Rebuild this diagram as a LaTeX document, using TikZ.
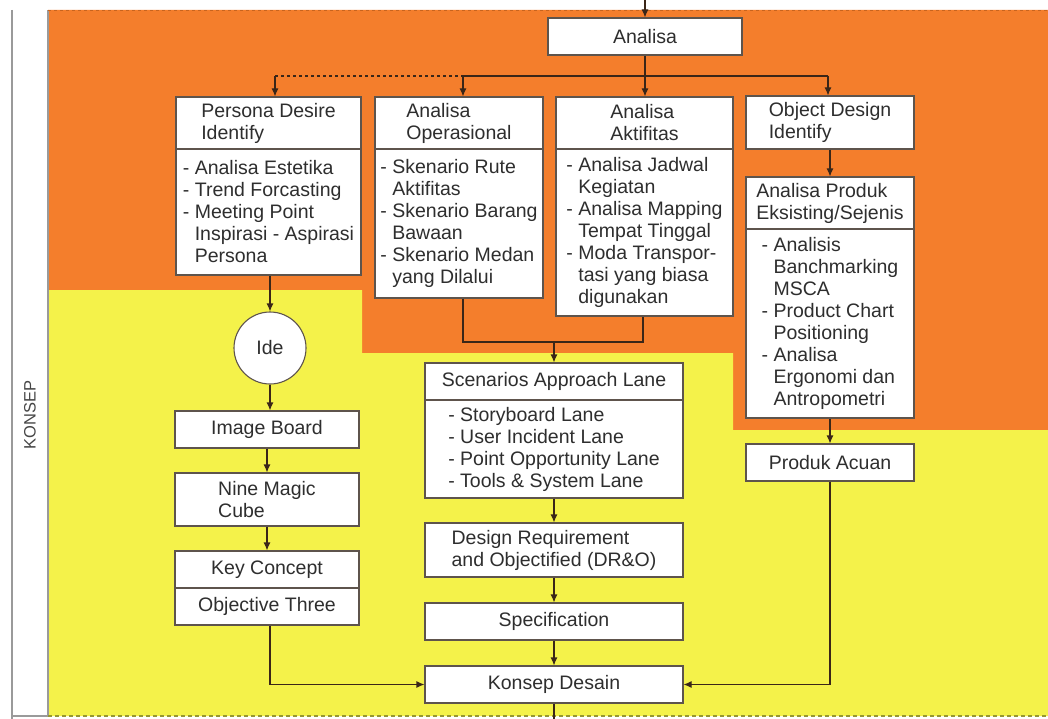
\documentclass[tikz,border=0pt]{standalone}
\usepackage{fontspec}
\setmainfont{Liberation Sans}
\usetikzlibrary{arrows.meta}
\definecolor{org}{HTML}{F47E2C}
\definecolor{yel}{HTML}{F4F24A}
\definecolor{txt}{HTML}{2E2E2E}
\definecolor{ln}{HTML}{3A2618}
\definecolor{bd}{HTML}{5E544C}
\definecolor{frame}{HTML}{9A9A9A}
\newcommand{\hg}{\hphantom{- }}
\begin{document}
\begin{tikzpicture}[x=1pt,y=-1pt,
 box/.style={draw=bd, line width=1.1pt, fill=white, inner sep=0pt, align=left, text=txt, font=\fontsize{19.5}{22}\selectfont},
 conn/.style={draw=ln, line width=1.1pt},
 arr/.style={conn, -{Latex[length=8pt,width=7pt]}}]
\useasboundingbox (0,0) rectangle (1048,719);
\fill[white] (0,0) rectangle (1048,719);
% backgrounds
\fill[org] (48,10) -- (1048,10) -- (1048,430) -- (733,430) -- (733,353) -- (362,353) -- (362,290) -- (48,290) -- cycle;
\fill[yel] (48,290) -- (362,290) -- (362,353) -- (733,353) -- (733,430) -- (1048,430) -- (1048,716) -- (48,716) -- cycle;
\draw[frame, line width=1.2pt] (12,10) -- (12,719);
\draw[frame, line width=1.2pt] (48,10) -- (48,716);
\draw[frame, line width=1.2pt] (12,716) -- (48,716);
\draw[draw={rgb,255:red,200;green,100;blue,30}, line width=1pt, dash pattern=on 3pt off 3pt] (48,10.5) -- (1048,10.5);
\draw[draw={rgb,255:red,150;green,150;blue,50}, line width=1.4pt, dash pattern=on 4pt off 3pt] (48,716) -- (1048,716);
\node[rotate=90, text={rgb,255:red,70;green,70;blue,70}, font=\fontsize{16.5}{19}\selectfont] (lbl) at (30,415) {KONSEP};
% nodes
\node[box, minimum width=194, minimum height=37] (an) at (645,36.5) {Analisa};
\node[box, minimum width=185, minimum height=52] (pdT) at (268.5,123) {Persona Desire\\Identify};
\node[box, minimum width=185, minimum height=126] (pdL) at (268.5,212) {- Analisa Estetika\\- Trend Forcasting\\- Meeting Point\\\hg Inspirasi - Aspirasi\\\hg Persona};
\node[box, minimum width=168, minimum height=52] (opT) at (459,123) {Analisa\\Operasional};
\node[box, minimum width=168, minimum height=149] (opL) at (459,223.5) {- Skenario Rute\\\hg Aktifitas\\- Skenario Barang\\\hg Bawaan\\- Skenario Medan\\\hg yang Dilalui};
\node[box, minimum width=177, minimum height=52] (akT) at (644.5,123) {Analisa\\Aktifitas};
\node[box, minimum width=177, minimum height=167] (akL) at (644.5,232.5) {- Analisa Jadwal\\\hg Kegiatan\\- Analisa Mapping\\\hg Tempat Tinggal\\- Moda Transpor-\\\hg tasi yang biasa\\\hg digunakan};
\node[box, minimum width=168, minimum height=53] (odT) at (830,122.5) {Object Design\\Identify};
\node[box, minimum width=168, minimum height=52] (apT) at (830,203) {Analisa Produk\\Eksisting/Sejenis};
\node[box, minimum width=168, minimum height=189] (apL) at (830,323.5) {- Analisis\\\hg Banchmarking\\\hg MSCA\\- Product Chart\\\hg Positioning\\- Analisa\\\hg Ergonomi dan\\\hg Antropometri};
\node[box, minimum width=168, minimum height=37] (pa) at (830,462.5) {Produk Acuan};
\node[box, circle, minimum size=72] (ide) at (270,348) {Ide};
\node[box, minimum width=184, minimum height=37] (ib) at (267,429.5) {Image Board};
\node[box, minimum width=184, minimum height=53] (nm) at (267,499.5) {Nine Magic\\Cube};
\node[box, minimum width=184, minimum height=37] (kc) at (267,569.5) {Key Concept};
\node[box, minimum width=184, minimum height=37] (ot) at (267,606.5) {Objective Three};
\node[box, minimum width=258, minimum height=37] (scT) at (554,381.5) {Scenarios Approach Lane};
\node[box, minimum width=258, minimum height=98] (scL) at (554,449) {- Storyboard Lane\\- User Incident Lane\\- Point Opportunity Lane\\- Tools \& System Lane};
\node[box, minimum width=258, minimum height=54] (dr) at (554,550) {Design Requirement\\and Objectified (DR\&O)};
\node[box, minimum width=258, minimum height=37] (sp) at (554,621.5) {Specification};
\node[box, minimum width=258, minimum height=37] (kd) at (554,684.5) {Konsep Desain};
% coordinates
\coordinate (topin) at (645,0);
\coordinate (j) at (645,76);
\coordinate (d1) at (275,76);
\coordinate (d2) at (463,76);
\coordinate (d4) at (828,76);
\coordinate (m1) at (463,342);
\coordinate (m2) at (643,342);
\coordinate (m0) at (554,342);
\coordinate (b1) at (270,684.5);
\coordinate (b2) at (830,684.5);
\coordinate (botout) at (554,719);
% connectors
\draw[arr] (topin) -- (an.north);
\draw[conn] (an.south) -- (j);
\draw[conn, dashed] (d1) -- (d2);
\draw[conn] (d2) -- (d4);
\draw[arr] (d1) -- (d1 |- pdT.north);
\draw[arr] (d2) -- (d2 |- opT.north);
\draw[arr] (j) -- (j |- akT.north);
\draw[arr] (d4) -- (d4 |- odT.north);
\draw[arr] (odT.south) -- (apT.north);
\draw[arr] (apL.south) -- (pa.north);
\draw[arr] (pa.south) -- (b2) -- (kd.east);
\draw[arr] (pdL.south -| ide) -- (ide.north);
\draw[arr] (ide.south) -- (ide.south |- ib.north);
\draw[arr] (ib.south) -- (nm.north);
\draw[arr] (nm.south) -- (kc.north);
\draw[arr] (ot.south -| b1) -- (b1) -- (kd.west);
\draw[conn] (opL.south -| m1) -- (m1) -- (m2) -- (akL.south -| m2);
\draw[arr] (m0) -- (scT.north);
\draw[arr] (scL.south) -- (dr.north);
\draw[arr] (dr.south) -- (sp.north);
\draw[arr] (sp.south) -- (kd.north);
\draw[conn] (kd.south) -- (botout);
\end{tikzpicture}
\end{document}
